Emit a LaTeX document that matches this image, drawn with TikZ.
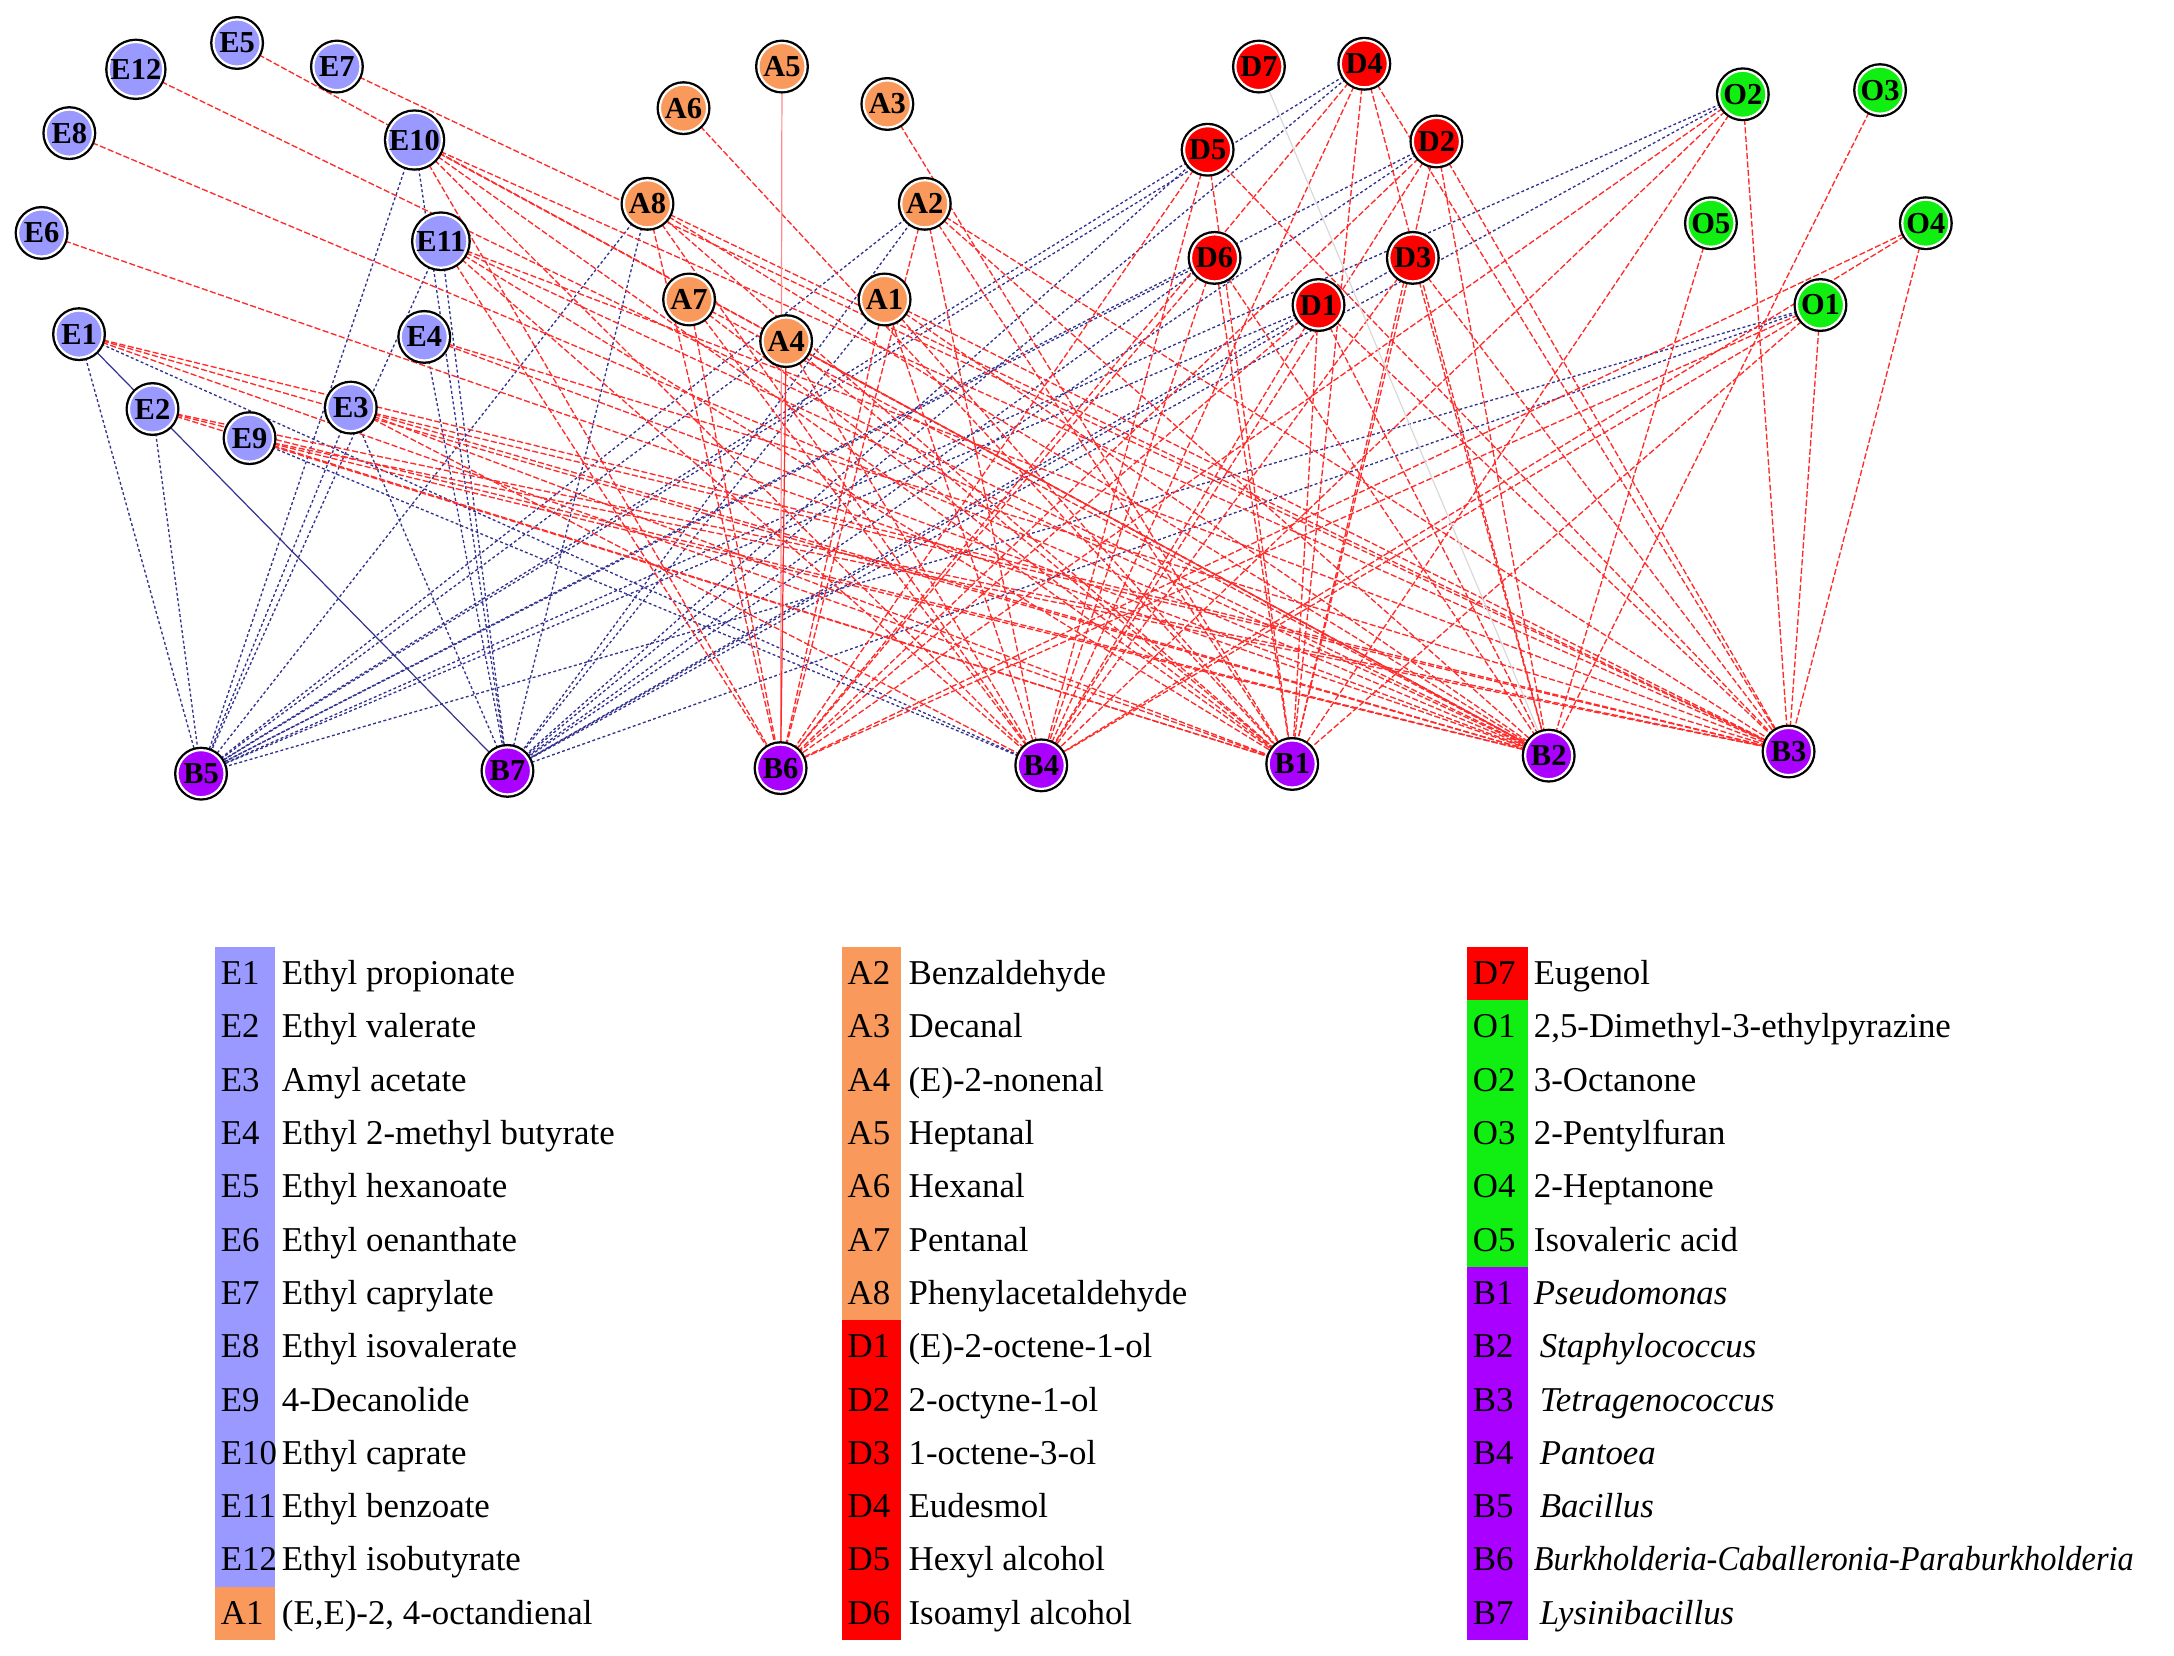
\documentclass[tikz,border=0pt]{standalone}
\usepackage{fontspec}
\setmainfont{Liberation Serif}
\usetikzlibrary{backgrounds}
\definecolor{esterc}{HTML}{9999FF}
\definecolor{aldc}{HTML}{F99A5C}
\definecolor{alcc}{HTML}{FF0000}
\definecolor{othc}{HTML}{11EE11}
\definecolor{bacc}{HTML}{AA00FF}
\definecolor{negc}{HTML}{33338F}
\definecolor{posc}{HTML}{FF2A2A}
\tikzset{
    cpd/.style={circle, minimum size=0.68cm, inner sep=0pt, draw=white, line width=0.9pt,
        preaction={draw=black, line width=2.8pt}, font=\fontsize{12.5}{12.5}\selectfont\bfseries},
    ester/.style={cpd, fill=esterc},
    ald/.style={cpd, fill=aldc},
    alc/.style={cpd, fill=alcc},
    oth/.style={cpd, fill=othc},
    bac/.style={cpd, fill=bacc},
    poslink/.style={posc, line width=0.55pt, dash pattern=on 2.5pt off 1pt},
    poslight/.style={posc!55, line width=0.5pt},
    neglink/.style={negc, line width=0.55pt, dash pattern=on 1.2pt off 1pt},
    negsolid/.style={negc, line width=0.5pt},
    faintlink/.style={gray!30, line width=0.5pt},
    code/.style={anchor=base west, inner sep=0pt, font=\fontsize{14.3}{16}\selectfont},
    leg/.style={anchor=base west, inner sep=0pt, font=\fontsize{14.3}{16}\selectfont},
}

\begin{document}
\begin{tikzpicture}[x=0.02cm, y=-0.02cm]
\useasboundingbox (0,0) rectangle (1568,1194);

% esters
\node[ester] (E12) at (98,50) {E12};
\node[ester] (E5) at (171,31) {E5};
\node[ester] (E7) at (243,48) {E7};
\node[ester] (E8) at (50,96) {E8};
\node[ester] (E10) at (299,101) {E10};
\node[ester] (E6) at (30,168) {E6};
\node[ester] (E11) at (318,174) {E11};
\node[ester] (E1) at (57,241) {E1};
\node[ester] (E4) at (306,243) {E4};
\node[ester] (E2) at (110,295) {E2};
\node[ester] (E3) at (253,294) {E3};
\node[ester] (E9) at (180,316) {E9};

% aldehydes
\node[ald] (A6) at (493,78) {A6};
\node[ald] (A5) at (564,48) {A5};
\node[ald] (A3) at (640,75) {A3};
\node[ald] (A8) at (467,147) {A8};
\node[ald] (A2) at (667,147) {A2};
\node[ald] (A7) at (497,216) {A7};
\node[ald] (A1) at (638,216) {A1};
\node[ald] (A4) at (567,246) {A4};

% alcohols
\node[alc] (D7) at (908,48) {D7};
\node[alc] (D4) at (984,46) {D4};
\node[alc] (D5) at (871,108) {D5};
\node[alc] (D2) at (1036,102) {D2};
\node[alc] (D6) at (876,186) {D6};
\node[alc] (D3) at (1019,186) {D3};
\node[alc] (D1) at (951,220) {D1};

% others
\node[oth] (O2) at (1257,68) {O2};
\node[oth] (O3) at (1356,65) {O3};
\node[oth] (O5) at (1234,161) {O5};
\node[oth] (O4) at (1389,161) {O4};
\node[oth] (O1) at (1313,220) {O1};

% bacteria
\node[bac] (B5) at (145,558) {B5};
\node[bac] (B7) at (366,556) {B7};
\node[bac] (B6) at (563,554) {B6};
\node[bac] (B4) at (751,552) {B4};
\node[bac] (B1) at (932,551) {B1};
\node[bac] (B2) at (1117,545) {B2};
\node[bac] (B3) at (1290,542) {B3};

\begin{scope}[on background layer]
% negative correlations
\foreach \s/\bs in {E1/{B5,B4}, E2/{B5}, E9/{B4}, E3/{B5,B7}, E4/{B7},
    E11/{B5,B7}, E10/{B5,B7}, A8/{B5,B7}, A4/{B5}, A2/{B5,B7}, A1/{B7},
    D4/{B5,B7}, D5/{B5,B7}, D2/{B5,B7}, D6/{B5,B7}, D3/{B7}, D1/{B5,B7},
    O2/{B5,B7}, O1/{B5,B7}}
    {\foreach \b in \bs \draw[neglink] (\s) -- (\b);}
\draw[negsolid] (E1) -- (B7);

% positive correlations
\foreach \s/\bs in {E1/{B1,B2,B3}, E2/{B1,B2,B3}, E9/{B1,B2,B3},
    E3/{B4,B1,B2,B3}, E4/{B2,B3}, E11/{B6,B4,B1,B2,B3}, E10/{B6,B4,B1,B2,B3},
    E12/{B2}, E5/{B2}, E8/{B2}, E6/{B2}, E7/{B3},
    A8/{B6,B4,B1,B2,B3}, A7/{B6,B4,B1,B2}, A6/{B1}, A3/{B1}, A4/{B4,B1,B2},
    A2/{B6,B4,B1,B2,B3}, A1/{B6,B4,B1,B2,B3},
    D4/{B6,B4,B1,B2,B3}, D5/{B6,B4,B1,B3}, D2/{B6,B4,B1,B2,B3},
    D6/{B6,B4,B1,B2}, D3/{B4,B1,B2,B3}, D1/{B6,B4,B1,B2,B3},
    O2/{B6,B4,B1,B3}, O3/{B2}, O5/{B2}, O4/{B3,B6,B4}, O1/{B6,B4,B1,B3}}
    {\foreach \b in \bs \draw[poslink] (\s) -- (\b);}
\draw[poslight] (A5) -- (B6);
\draw[posc, line width=0.5pt] (A4) -- (B6);
\draw[faintlink] (D7) -- (B2);
\end{scope}

% legend
\foreach \k/\t/\f [count=\i from 0] in {E1/Ethyl propionate/esterc, E2/Ethyl valerate/esterc,
    E3/Amyl acetate/esterc, E4/Ethyl 2-methyl butyrate/esterc, E5/Ethyl hexanoate/esterc,
    E6/Ethyl oenanthate/esterc, E7/Ethyl caprylate/esterc, E8/Ethyl isovalerate/esterc,
    E9/4-Decanolide/esterc, E10/Ethyl caprate/esterc, E11/Ethyl benzoate/esterc,
    E12/Ethyl isobutyrate/esterc, {A1/(E,E)-2, 4-octandienal/aldc}}
{
    \fill[\f] (155,683+38.46*\i) rectangle ++(43,38.6);
    \node[code] (k\k) at (159,710+38.46*\i) {\k};
    \node[leg] (t\k) at (203,710+38.46*\i) {\t};
}
\foreach \k/\t/\f [count=\i from 0] in {A2/Benzaldehyde/aldc, A3/Decanal/aldc,
    A4/(E)-2-nonenal/aldc, A5/Heptanal/aldc, A6/Hexanal/aldc, A7/Pentanal/aldc,
    A8/Phenylacetaldehyde/aldc, D1/(E)-2-octene-1-ol/alcc, D2/2-octyne-1-ol/alcc,
    D3/1-octene-3-ol/alcc, D4/Eudesmol/alcc, D5/Hexyl alcohol/alcc, D6/Isoamyl alcohol/alcc}
{
    \fill[\f] (607,683+38.46*\i) rectangle ++(43,38.6);
    \node[code] (k\k) at (611,710+38.46*\i) {\k};
    \node[leg] (t\k) at (655,710+38.46*\i) {\t};
}
\foreach \k/\t/\f [count=\i from 0] in {D7/Eugenol/alcc,
    {O1/2,5-Dimethyl-3-ethylpyrazine/othc}, O2/3-Octanone/othc, O3/2-Pentylfuran/othc,
    O4/2-Heptanone/othc, O5/Isovaleric acid/othc,
    B1/\textit{Pseudomonas}/bacc, B2/\,\textit{Staphylococcus}/bacc,
    B3/\,\textit{Tetragenococcus}/bacc, B4/\,\textit{Pantoea}/bacc,
    B5/\,\textit{Bacillus}/bacc,
    B6/\scalebox{0.93}[1]{\textit{Burkholderia-Caballeronia-Paraburkholderia}}/bacc,
    B7/\,\textit{Lysinibacillus}/bacc}
{
    \fill[\f] (1058,683+38.46*\i) rectangle ++(44,38.6);
    \node[code] (k\k) at (1062,710+38.46*\i) {\k};
    \node[leg] (t\k) at (1106,710+38.46*\i) {\t};
}
\end{tikzpicture}
\end{document}
